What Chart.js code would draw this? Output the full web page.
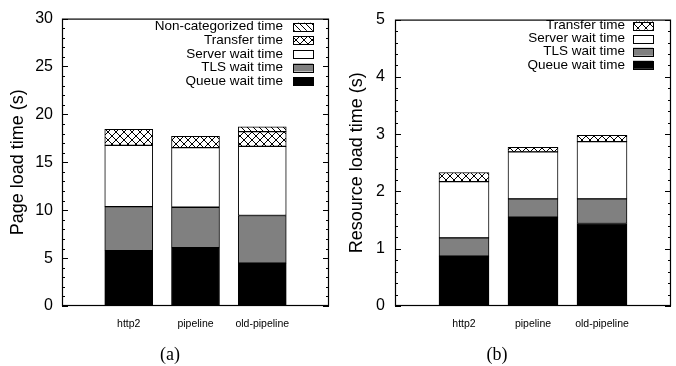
<!DOCTYPE html>
<html>
<head>
<meta charset="utf-8">
<script src="https://cdn.jsdelivr.net/npm/chart.js@4/dist/chart.umd.min.js"></script>
<style>
  body { margin: 0; background: #fff; }
  #wrap { position: relative; width: 676px; height: 366px; }
  canvas { position: absolute; top: 0; }
  .cap { position: absolute; top: 344px; font: 18px "Liberation Serif", "Times New Roman", serif; color: #000; transform: translateX(-50%); }
</style>
</head>
<body>
<div id="wrap">
  <canvas id="chartA" width="338" height="366" style="left:0"></canvas>
  <canvas id="chartB" width="338" height="366" style="left:338px"></canvas>
  <div class="cap" style="left:170px">(a)</div>
  <div class="cap" style="left:497px">(b)</div>
</div>
<script>
const catLabels = ['http2', 'pipeline', 'old-pipeline'];
const catPos = [0, 1, 2];

// (a) page load time (s), one value per stacked segment
const pageQueue = [5.77, 6.08, 4.47];
const pageTls = [4.61, 4.23, 4.98];
const pageServer = [6.39, 6.22, 7.22];
const pageTransfer = [1.68, 1.17, 1.53];
const pageNonCat = [null, null, 0.5];

// (b) resource load time (s)
const resQueue = [0.87, 1.55, 1.44];
const resTls = [0.32, 0.32, 0.43];
const resServer = [0.98, 0.82, 1.0];
const resTransfer = [0.16, 0.08, 0.11];

const yTicksA = [0, 5, 10, 15, 20, 25, 30];
const yTicksB = [0, 1, 2, 3, 4, 5];

Chart.defaults.font.family = '"Liberation Sans", Arial, Helvetica, sans-serif';
Chart.defaults.color = '#000';

function pattern(kind) {
  const n = kind === 'cross' ? 8 : 6;
  const c = document.createElement('canvas');
  c.width = c.height = n;
  const g = c.getContext('2d');
  g.fillStyle = '#fff';
  g.fillRect(0, 0, n, n);
  g.strokeStyle = '#000';
  g.lineWidth = 1;
  g.beginPath();
  g.moveTo(-1, -1); g.lineTo(n + 1, n + 1);
  if (kind === 'cross') {
    g.moveTo(n + 1, -1); g.lineTo(-1, n + 1);
  }
  g.stroke();
  return g.createPattern(c, 'repeat');
}
const crossFill = pattern('cross');
const diagFill = pattern('diag');

function series(label, vals, fill) {
  return {
    label: label,
    data: vals.map((v, i) => ({ x: catPos[i], y: v })),
    backgroundColor: fill,
    borderColor: '#000',
    borderWidth: 1,
    borderSkipped: false
  };
}

// frame, inward y ticks (mirrored), legend inside the plot
const decor = {
  id: 'decor',
  afterDraw(chart, args, o) {
    const { ctx, chartArea: a, scales: { y } } = chart;
    ctx.save();
    ctx.strokeStyle = '#000';
    ctx.lineWidth = 1;
    ctx.beginPath();
    for (let v = y.min; v <= y.max + 1e-9; v += o.minor) {
      const p = Math.round(y.getPixelForValue(v)) + 0.5;
      const major = Math.abs(v / o.major - Math.round(v / o.major)) < 1e-6;
      const len = major ? 6 : 3;
      ctx.moveTo(a.left, p); ctx.lineTo(a.left + len, p);
      ctx.moveTo(a.right, p); ctx.lineTo(a.right - len, p);
    }
    ctx.stroke();
    ctx.lineWidth = 1.2;
    ctx.strokeRect(a.left + 0.5, a.top + 0.5, a.right - a.left - 1, a.bottom - a.top - 1);

    // legend, top row = last dataset
    const ds = chart.data.datasets.slice().reverse();
    ctx.font = '13.5px "Liberation Sans", Arial, sans-serif';
    ctx.textAlign = 'right';
    ctx.textBaseline = 'middle';
    ctx.lineWidth = 1;
    ds.forEach((d, i) => {
      const cy = o.top + i * o.gap;
      ctx.fillStyle = '#000';
      ctx.fillText(d.label, o.textRight, cy);
      ctx.fillStyle = d.backgroundColor;
      ctx.fillRect(o.boxLeft, cy - 4, 20, 8);
      ctx.strokeRect(o.boxLeft + 0.5, Math.round(cy - 4) + 0.5, 20, 8);
    });
    ctx.restore();
  }
};

function makeChart(id, datasets, yMax, yTicks, yTitle, cfg) {
  return new Chart(document.getElementById(id), {
    type: 'bar',
    data: { datasets: datasets },
    plugins: [decor],
    options: {
      responsive: false,
      animation: false,
      devicePixelRatio: 1,
      barThickness: cfg.bar,
      layout: { padding: { top: 15, right: cfg.padRight, left: 0, bottom: 0 } },
      plugins: {
        legend: { display: false },
        tooltip: { enabled: false },
        decor: cfg.legend
      },
      scales: {
        x: {
          type: 'linear',
          stacked: true,
          offset: false,
          min: -1,
          max: 3,
          grid: { display: false, drawTicks: false, offset: false },
          border: { display: false },
          afterBuildTicks: s => { s.ticks = catPos.map(v => ({ value: v })); },
          afterFit: s => { s.height = 60; },
          ticks: {
            padding: 12,
            maxRotation: 0,
            autoSkip: false,
            font: { size: 10.5 },
            callback: (v, i) => catLabels[i]
          }
        },
        y: {
          stacked: true,
          min: 0,
          max: yMax,
          grid: { display: false, drawTicks: false },
          border: { display: false },
          afterBuildTicks: s => { s.ticks = yTicks.map(v => ({ value: v })); },
          afterFit: s => { s.width = cfg.yWidth; },
          ticks: { padding: cfg.tickPad, font: { size: 16 } },
          title: {
            display: true,
            text: yTitle,
            font: { size: 18 },
            padding: { top: cfg.titlePad, bottom: 0 }
          }
        }
      }
    }
  });
}

makeChart('chartA', [
  series('Queue wait time', pageQueue, '#000'),
  series('TLS wait time', pageTls, '#808080'),
  series('Server wait time', pageServer, '#fff'),
  series('Transfer time', pageTransfer, crossFill),
  series('Non-categorized time', pageNonCat, diagFill)
], 30, yTicksA, 'Page load time (s)', {
  bar: 48, padRight: 9, yWidth: 62, tickPad: 9, titlePad: 7,
  legend: { major: 5, minor: 1, top: 26.7, gap: 13.6, textRight: 283, boxLeft: 293 }
});

makeChart('chartB', [
  series('Queue wait time', resQueue, '#000'),
  series('TLS wait time', resTls, '#808080'),
  series('Server wait time', resServer, '#fff'),
  series('Transfer time', resTransfer, crossFill)
], 5, yTicksB, 'Resource load time (s)', {
  bar: 50, padRight: 5, yWidth: 57, tickPad: 10, titlePad: 8,
  legend: { major: 1, minor: 0.2, top: 25.5, gap: 13.1, textRight: 287, boxLeft: 295 }
});
</script>
</body>
</html>
